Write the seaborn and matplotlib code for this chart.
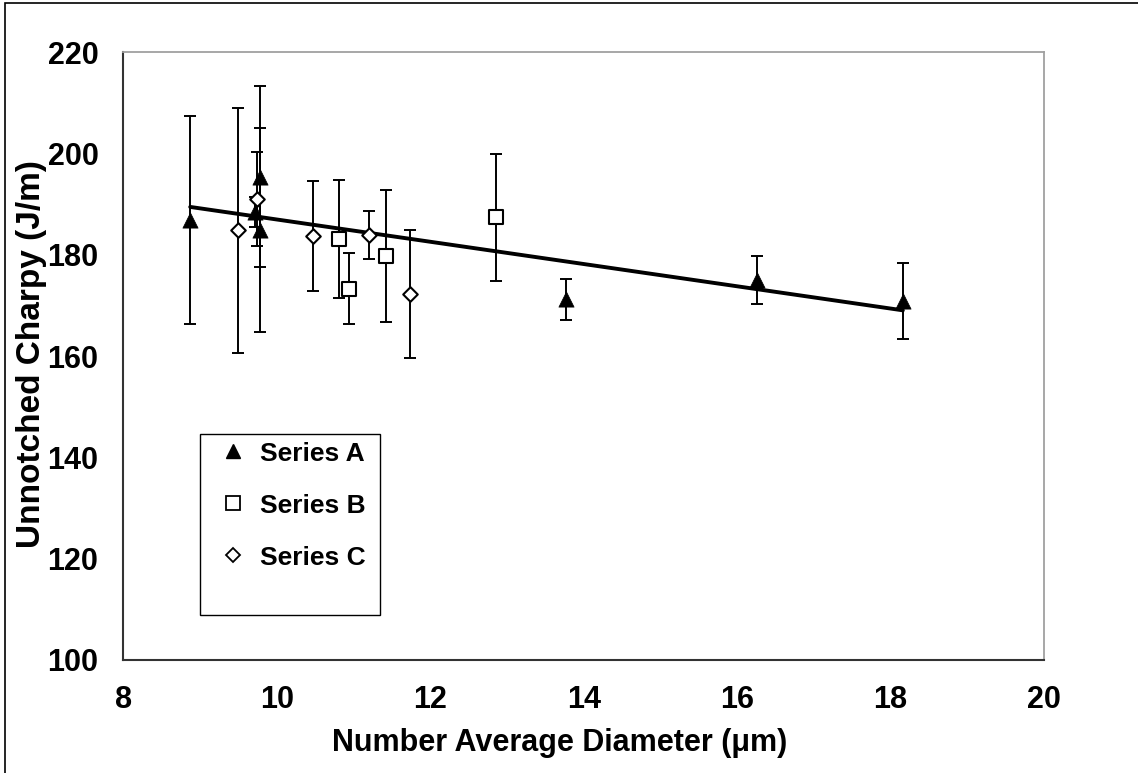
import matplotlib
matplotlib.use("Agg")
import matplotlib.pyplot as plt
import seaborn as sns
import numpy as np
from matplotlib.patches import Rectangle
from matplotlib.lines import Line2D

# ---- data ----
a_x = [8.87, 9.78, 9.72, 9.78, 13.77, 16.26, 18.16]
a_y = [186.9, 195.4, 188.4, 184.9, 171.2, 175.0, 170.9]
a_err = [20.5, 17.8, 3.0, 20.1, 4.0, 4.8, 7.5]

b_x = [10.81, 10.94, 11.42, 12.85]
b_y = [183.1, 173.3, 179.8, 187.4]
b_err = [11.7, 7.0, 13.0, 12.5]

c_x = [9.49, 9.745, 10.47, 11.20, 11.74]
c_y = [184.8, 191.0, 183.7, 183.9, 172.3]
c_err = [24.2, 9.35, 10.8, 4.8, 12.6]

series_names = ["Series A", "Series B", "Series C"]
x_ticks = [8, 10, 12, 14, 16, 18, 20]
y_ticks = [100, 120, 140, 160, 180, 200, 220]

sns.set_style("white")
plt.rcParams["font.family"] = ["Liberation Sans", "DejaVu Sans"]
plt.rcParams["font.weight"] = "bold"
plt.rcParams["text.color"] = "black"
plt.rcParams["axes.labelcolor"] = "black"
plt.rcParams["xtick.color"] = "black"
plt.rcParams["ytick.color"] = "black"

fig = plt.figure(figsize=(11.38, 7.73), dpi=100)
ax = fig.add_axes([0.1085, 0.1462, 0.8089, 0.7865])

# error bars
for xs, ys, es in [(a_x, a_y, a_err), (b_x, b_y, b_err), (c_x, c_y, c_err)]:
    ax.errorbar(xs, ys, yerr=es, fmt="none", ecolor="black", elinewidth=1.4,
                capsize=4.2, capthick=1.4, zorder=2)

# trend line on series A
sns.regplot(x=np.array(a_x), y=np.array(a_y), scatter=False, ci=None, ax=ax,
            color="black", line_kws={"linewidth": 2.8, "zorder": 3}, truncate=True)

# markers
sns.scatterplot(x=a_x, y=a_y, ax=ax, marker="^", s=120, color="black",
                edgecolor="black", linewidth=0.5, zorder=4)
sns.scatterplot(x=b_x, y=b_y, ax=ax, marker="s", s=90, facecolor="white",
                edgecolor="black", linewidth=1.5, zorder=4)
sns.scatterplot(x=c_x, y=c_y, ax=ax, marker="D", s=55, facecolor="white",
                edgecolor="black", linewidth=1.5, zorder=4)

ax.set_xlim(8, 20)
ax.set_ylim(100, 220)
ax.set_xticks(x_ticks)
ax.set_yticks(y_ticks)
ax.set_xticklabels([str(v) for v in x_ticks], fontsize=22, fontweight="bold")
ax.set_yticklabels([str(v) for v in y_ticks], fontsize=22, fontweight="bold")
ax.tick_params(axis="both", direction="in", length=7, width=1.0, color="#333333")
ax.tick_params(axis="x", pad=18)
ax.tick_params(axis="y", pad=18)

for side in ["left", "bottom"]:
    ax.spines[side].set_color("#333333")
    ax.spines[side].set_linewidth(1.5)
for side in ["top", "right"]:
    ax.spines[side].set_color("#a0a0a0")
    ax.spines[side].set_linewidth(1.3)

ax.set_xlabel("Number Average Diameter (\u03bcm)", fontsize=22, fontweight="bold")
ax.set_ylabel("Unnotched Charpy (J/m)", fontsize=24, fontweight="bold")
ax.xaxis.set_label_coords(0.474, -0.112)
ax.yaxis.set_label_coords(-0.083, 0.503)

# legend
handles = [
    Line2D([], [], linestyle="none", marker="^", markersize=10, color="black"),
    Line2D([], [], linestyle="none", marker="s", markersize=9.5, markerfacecolor="white",
           markeredgecolor="black", markeredgewidth=1.3),
    Line2D([], [], linestyle="none", marker="D", markersize=7, markerfacecolor="white",
           markeredgecolor="black", markeredgewidth=1.3),
]
leg = ax.legend(handles, series_names, loc="upper left", bbox_to_anchor=(0.0974, 0.359),
                frameon=False, borderpad=0, borderaxespad=0, handlelength=1.5,
                handletextpad=0.27, labelspacing=1.06, prop={"size": 19, "weight": "bold"})
ax.add_patch(Rectangle((0.0831, 0.074), 0.1955, 0.2977, transform=ax.transAxes,
                       fill=False, edgecolor="black", linewidth=1.0, zorder=5))

# outer figure border (top and left visible)
fig.add_artist(Rectangle((0.0045, -0.01), 1.1, 1.006, transform=fig.transFigure,
                         fill=False, edgecolor="black", linewidth=1.2))

fig.savefig("out.png", dpi=100)
